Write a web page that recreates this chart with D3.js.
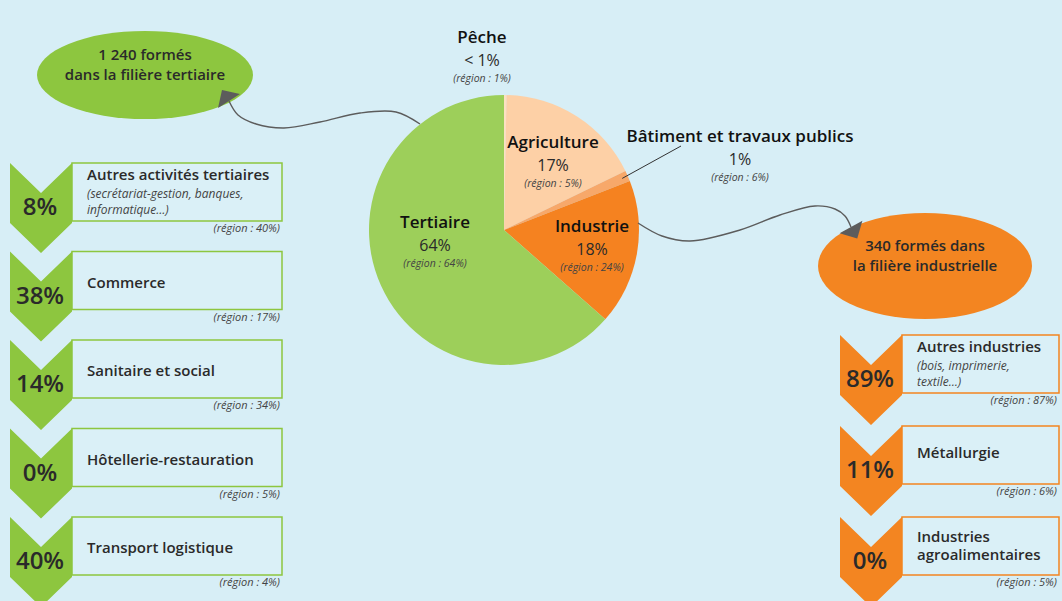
<!DOCTYPE html>
<html>
<head>
<meta charset="utf-8">
<script src="https://cdn.jsdelivr.net/npm/d3@7"></script>
<style>
  body { margin: 0; background: #d7eef6; }
  svg text { font-family: "Open Sans", sans-serif; fill: #2a2a2a; }
  .ital { font-style: italic; fill: #444; }
</style>
</head>
<body>
<div id="chart"></div>
<script>
// pie: sectors, clockwise from 12 o'clock
const sectors = ["Pêche", "Agriculture", "Bâtiment et travaux publics", "Industrie", "Tertiaire"];
const sectorShare = [0.3, 17.5, 1.3, 17.4, 63.5];
const sectorText = ["< 1%", "17%", "1%", "18%", "64%"];
const sectorRegion = ["1%", "5%", "6%", "24%", "64%"];
const sectorColors = ["#fde0c2", "#fdd0a6", "#f7a86a", "#f58220", "#9dcf5a"];

// tertiaire detail
const tertCats = ["Autres activités tertiaires", "Commerce", "Sanitaire et social", "Hôtellerie-restauration", "Transport logistique"];
const tertNotes = [["(secrétariat-gestion, banques,", "informatique…)"], [], [], [], []];
const tertPct = [8, 38, 14, 0, 40];
const tertRegion = [40, 17, 34, 5, 4];
const tertTotal = "1 240";

// industrie detail
const indCats = [["Autres industries"], ["Métallurgie"], ["Industries", "agroalimentaires"]];
const indNotes = [["(bois, imprimerie,", "textile…)"], [], []];
const indPct = [89, 11, 0];
const indRegion = [87, 6, 5];
const indTotal = "340";

const width = 1062, height = 601;
const green = "#8dc63f", orange = "#f38521", arrowGrey = "#5c5c5c";

const svg = d3.select("#chart")
  .append("svg")
    .attr("width", width)
    .attr("height", height);

svg.append("rect").attr("width", width).attr("height", height).attr("fill", "#d7eef6");

// pie
const cx = 504, cy = 230, R = 135;
const pie = d3.pie().sort(null).value(d => d)(sectorShare);
const arc = d3.arc().innerRadius(0).outerRadius(R);

// connector curves
const curve = d3.line().curve(d3.curveCatmullRom.alpha(0.5));
const links = [
  [[420,124],[396,112],[360,113],[320,122],[284,128],[256,124],[238,115],[229,101]],
  [[638,223],[662,236],[690,241],[740,230],[780,215],[815,206],[835,209],[845,216],[851,227]]
];

const g = svg.append("g").attr("transform", `translate(${cx},${cy})`);
g.selectAll("path")
  .data(pie)
  .join("path")
  .attr("d", arc)
  .attr("fill", (d, i) => sectorColors[i]);

// labels around the pie, offsets relative to the centre
const labelPos = {"Agriculture": [49, -82], "Industrie": [88, 2], "Tertiaire": [-69, -2],
                  "Pêche": [-22, -187], "Bâtiment et travaux publics": [236, -88]};

function sectorLabel(i) {
  const [dx, dy] = labelPos[sectors[i]];
  const t = g.append("g").attr("transform", `translate(${dx},${dy})`);
  t.append("text").attr("text-anchor", "middle")
    .style("font-size", "17px").style("font-weight", 600).style("fill", "#111").text(sectors[i]);
  t.append("text").attr("text-anchor", "middle").attr("y", 23)
    .style("font-size", "16px").text(sectorText[i]);
  t.append("text").attr("class", "ital").attr("text-anchor", "middle").attr("y", 39)
    .style("font-size", "10.5px").text(`(région : ${sectorRegion[i]})`);
}
sectors.forEach((s, i) => sectorLabel(i));

// leader line for the thin BTP slice
const btp = pie[2];
const mid = (btp.startAngle + btp.endAngle) / 2;
g.append("line")
  .attr("x1", Math.sin(mid) * (R - 6)).attr("y1", -Math.cos(mid) * (R - 6))
  .attr("x2", 177).attr("y2", -84)
  .attr("stroke", "#333").attr("stroke-width", 1);

// total bubbles
function bubble(x, y, rx, ry, fill, lines) {
  svg.append("ellipse").attr("cx", x).attr("cy", y).attr("rx", rx).attr("ry", ry).attr("fill", fill);
  lines.forEach((l, i) => {
    svg.append("text").attr("x", x).attr("y", y - 15 + i * 20)
      .attr("text-anchor", "middle")
      .style("font-size", "15px").style("font-weight", 600)
      .text(l);
  });
}
bubble(145, 75, 108, 44, green, [`${tertTotal} formés`, "dans la filière tertiaire"]);
bubble(925, 266, 107, 53, orange, [`${indTotal} formés dans`, "la filière industrielle"]);

// curves + arrowheads on top of the bubbles
svg.selectAll("path.link")
  .data(links)
  .join("path")
  .attr("class", "link")
  .attr("d", d => curve(d))
  .attr("fill", "none").attr("stroke", arrowGrey).attr("stroke-width", 1.4);

svg.selectAll("path.head")
  .data(links)
  .join("path")
  .attr("class", "head")
  .attr("d", d => {
    const [px, py] = d[d.length - 2], [ex, ey] = d[d.length - 1];
    const len = Math.hypot(ex - px, ey - py);
    const ux = (ex - px) / len, uy = (ey - py) / len;
    const half = 13, depth = 13;
    return `M${ex - uy * half},${ey + ux * half} L${ex + ux * depth},${ey + uy * depth} L${ex + uy * half},${ey - ux * half} Z`;
  })
  .attr("fill", arrowGrey);

// chevron + box rows
function column(opts) {
  const {x0, yScale, boxW, color, cats, notes, pct, region, single} = opts;
  const w = 62, h = 60, notch = 30, tip = 30, boxH = 58;
  pct.forEach((p, i) => {
    const y0 = yScale(i);
    const row = svg.append("g");
    row.append("path")
      .attr("d", `M${x0},${y0} L${x0 + w / 2},${y0 + notch} L${x0 + w},${y0} L${x0 + w},${y0 + h} L${x0 + w / 2},${y0 + h + tip} L${x0},${y0 + h} Z`)
      .attr("fill", color);
    row.append("rect")
      .attr("x", x0 + w).attr("y", y0)
      .attr("width", boxW).attr("height", boxH)
      .attr("fill", "#daf0f7").attr("stroke", color).attr("stroke-width", 1.5);
    row.append("text")
      .attr("x", x0 + w / 2 - 1).attr("y", y0 + 52)
      .attr("text-anchor", "middle")
      .style("font-size", "24px").style("font-weight", 600)
      .text(`${p}%`);

    const title = [].concat(cats[i]);
    const note = notes[i];
    const tx = x0 + w + 15;
    if (note.length) {
      row.append("text").attr("x", tx).attr("y", y0 + 17)
        .style("font-size", "15px").style("font-weight", 600).text(title[0]);
      note.forEach((n, j) => row.append("text").attr("class", "ital")
        .attr("x", tx).attr("y", y0 + 35 + j * 16)
        .style("font-size", "12px").text(n));
    } else if (title.length === 2) {
      title.forEach((t, j) => row.append("text").attr("x", tx).attr("y", y0 + 25 + j * 18)
        .style("font-size", "15px").style("font-weight", 600).text(t));
    } else {
      row.append("text").attr("x", tx).attr("y", y0 + single)
        .style("font-size", "15px").style("font-weight", 600).text(title[0]);
    }
    row.append("text").attr("class", "ital")
      .attr("x", x0 + w + boxW - 2).attr("y", y0 + 69)
      .attr("text-anchor", "end")
      .style("font-size", "11px")
      .text(`(région : ${region[i]}%)`);
  });
}

column({
  x0: 10, boxW: 210, color: green, single: 36,
  yScale: d3.scaleLinear().domain([0, tertPct.length - 1]).range([163, 517]),
  cats: tertCats, notes: tertNotes, pct: tertPct, region: tertRegion
});
column({
  x0: 840, boxW: 157, color: orange, single: 32,
  yScale: d3.scaleLinear().domain([0, indPct.length - 1]).range([335, 517]),
  cats: indCats, notes: indNotes, pct: indPct, region: indRegion
});
</script>
</body>
</html>
